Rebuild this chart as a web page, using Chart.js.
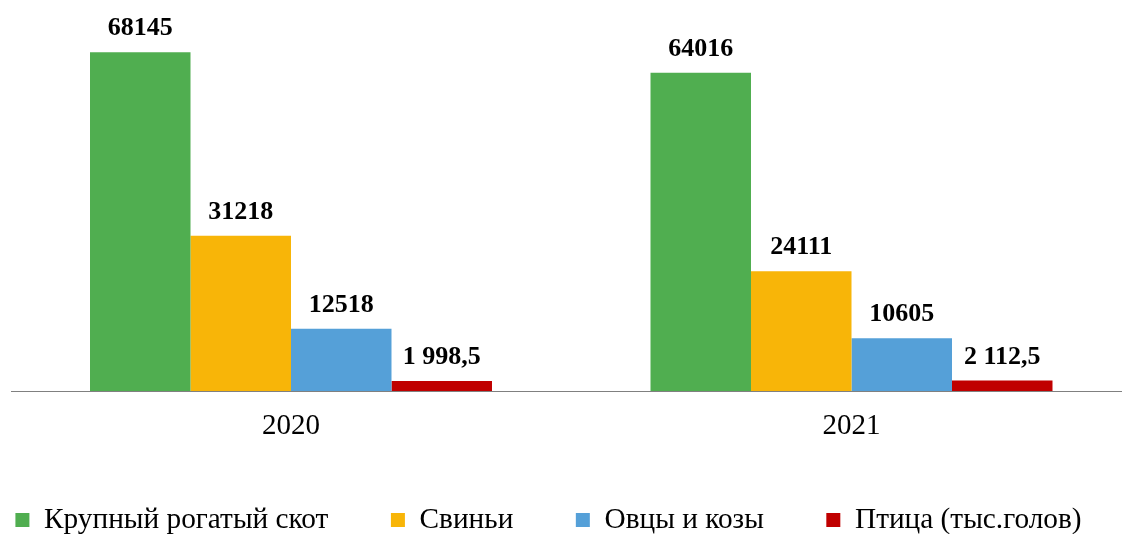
<!DOCTYPE html>
<html>
<head>
<meta charset="utf-8">
<script src="https://cdn.jsdelivr.net/npm/chart.js@4.4.1/dist/chart.umd.min.js"></script>
<style>
html,body{margin:0;padding:0;background:#fff;overflow:hidden}
#wrap{width:1122px;height:534px;position:relative}
</style>
</head>
<body>
<div id="wrap"><canvas id="c" width="1122" height="534"></canvas></div>
<script>
// ---- data ----
const categories = ['2020', '2021'];
const seriesNames = ['Крупный рогатый скот', 'Свиньи', 'Овцы и козы', 'Птица (тыс.голов)'];
const cattle = [68145, 64016];
const pigs = [31218, 24111];
const sheepGoats = [12518, 10605];
const poultry = [1998.5, 2112.5];
const seriesValues = [cattle, pigs, sheepGoats, poultry];
const seriesColors = ['#50AE50', '#F8B508', '#55A0D8', '#C00000'];

const SERIF = '"Liberation Serif", "Times New Roman", serif';

function fmt(v) {
  if (Number.isInteger(v)) return String(v);
  const parts = v.toFixed(1).split('.');
  return parts[0].replace(/\B(?=(\d{3})+(?!\d))/g, ' ') + ',' + parts[1];
}

const valueLabels = {
  id: 'valueLabels',
  afterDatasetsDraw(chart) {
    const ctx = chart.ctx;
    ctx.save();
    ctx.font = 'bold 26px ' + SERIF;
    ctx.fillStyle = '#000';
    ctx.textAlign = 'center';
    ctx.textBaseline = 'alphabetic';
    chart.data.datasets.forEach((ds, i) => {
      const meta = chart.getDatasetMeta(i);
      meta.data.forEach((bar, j) => {
        ctx.fillText(fmt(ds.data[j]), bar.x, bar.y - 17);
      });
    });
    ctx.restore();
  }
};

new Chart(document.getElementById('c'), {
  type: 'bar',
  data: {
    labels: categories,
    datasets: seriesValues.map((vals, i) => ({
      label: seriesNames[i],
      data: vals,
      backgroundColor: seriesColors[i],
      borderWidth: 0
    }))
  },
  options: {
    responsive: false,
    animation: false,
    devicePixelRatio: 1,
    layout: { padding: { left: -49, right: -24, top: 0, bottom: -10.65 } },
    datasets: { bar: { categoryPercentage: 0.7172, barPercentage: 1 } },
    plugins: {
      legend: {
        position: 'bottom',
        labels: {
          font: { family: SERIF, size: 29.3 },
          color: '#000',
          boxWidth: 14,
          boxHeight: 14,
          padding: 62.5
        }
      },
      tooltip: { enabled: false }
    },
    scales: {
      x: {
        type: 'linear',
        min: 2019.50045,
        max: 2021.4826,
        offset: false,
        grid: { display: false, drawTicks: false, offset: false },
        border: { display: true, color: '#808080', width: 1 },
        ticks: {
          font: { family: SERIF, size: 29 },
          color: '#000',
          padding: 17.6,
          callback: v => String(v)
        },
        afterBuildTicks: s => { s.ticks = categories.map(c => ({ value: +c })); },
        afterFit: s => { s.height = 51.85; }
      },
      y: {
        display: true,
        min: 0,
        max: 78670,
        grid: { display: false, drawTicks: false },
        border: { display: false },
        ticks: { display: false },
        afterFit: s => { s.width = 60; }
      }
    }
  },
  plugins: [valueLabels]
});
</script>
</body>
</html>
